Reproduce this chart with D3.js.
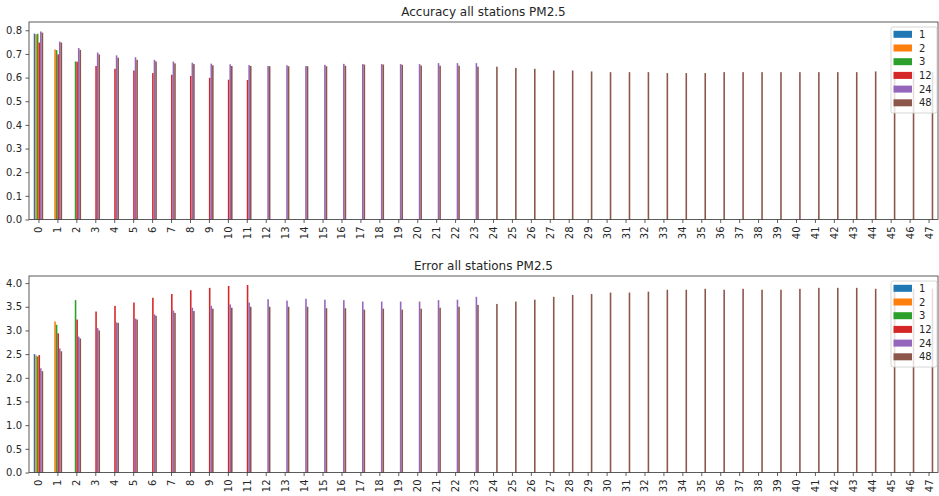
<!DOCTYPE html>
<html>
<head>
<meta charset="utf-8">
<script src="https://cdn.jsdelivr.net/npm/d3@7"></script>
<style>
  html, body { margin: 0; padding: 0; background: #fff; }
  svg { display: block; font-family: "DejaVu Sans", sans-serif; }
</style>
</head>
<body>
<svg id="chart" width="939" height="496"></svg>
<script>
// Forecast horizons (legend entries) and lead-hour categories on the x axis
const horizons = ["1", "2", "3", "12", "24", "48"];
const leadHours = d3.range(48).map(String);
const colors = ["#1f77b4", "#ff7f0e", "#2ca02c", "#d62728", "#9467bd", "#8c564b"];

// Accuracy per horizon model, one value per lead hour
const acc1 = [0.786];
const acc2 = [0.783, 0.719];
const acc3 = [0.785, 0.716, 0.668];
const acc12 = [0.748, 0.698, 0.667, 0.649, 0.637, 0.630, 0.619, 0.612, 0.607, 0.599, 0.591, 0.590];
const acc24 = [0.795, 0.752, 0.725, 0.706, 0.694, 0.686, 0.675, 0.668, 0.663, 0.659, 0.656, 0.653,
               0.649, 0.652, 0.649, 0.654, 0.658, 0.657, 0.657, 0.657, 0.657, 0.661, 0.661, 0.661];
const acc48 = [0.790, 0.748, 0.717, 0.698, 0.684, 0.675, 0.668, 0.660, 0.657, 0.652, 0.649, 0.649,
               0.648, 0.648, 0.648, 0.648, 0.650, 0.655, 0.655, 0.654, 0.651, 0.650, 0.650, 0.646,
               0.646, 0.641, 0.637, 0.630, 0.630, 0.626, 0.623, 0.623, 0.623, 0.619, 0.619, 0.619,
               0.623, 0.623, 0.623, 0.623, 0.623, 0.623, 0.623, 0.623, 0.626, 0.625, 0.625, 0.625];

// Error per horizon model, one value per lead hour
const err1 = [2.50];
const err2 = [2.47, 3.19];
const err3 = [2.45, 3.12, 3.64];
const err12 = [2.48, 2.94, 3.23, 3.40, 3.52, 3.59, 3.69, 3.77, 3.85, 3.90, 3.94, 3.96];
const err24 = [2.20, 2.62, 2.87, 3.05, 3.17, 3.25, 3.34, 3.42, 3.48, 3.52, 3.55, 3.59,
               3.66, 3.63, 3.67, 3.65, 3.64, 3.61, 3.61, 3.61, 3.61, 3.64, 3.65, 3.71];
const err48 = [2.14, 2.56, 2.83, 3.00, 3.16, 3.23, 3.31, 3.37, 3.41, 3.46, 3.48, 3.50,
               3.50, 3.50, 3.50, 3.47, 3.47, 3.44, 3.46, 3.44, 3.46, 3.48, 3.50, 3.54,
               3.56, 3.61, 3.65, 3.71, 3.75, 3.77, 3.80, 3.80, 3.82, 3.86, 3.86, 3.88,
               3.86, 3.88, 3.86, 3.86, 3.88, 3.90, 3.90, 3.90, 3.88, 3.88, 3.88, 3.88];

const accTicks = [0, 0.1, 0.2, 0.3, 0.4, 0.5, 0.6, 0.7, 0.8];
const errTicks = [0, 0.5, 1.0, 1.5, 2.0, 2.5, 3.0, 3.5, 4.0];

const svg = d3.select("#chart");

function panel(opts) {
  const { title, series, top, bottom, yMax, ticks } = opts;
  const left = 29, right = 938;
  const g = svg.append("g");

  const x = d3.scaleLinear().domain([-0.5, 47.5]).range([left, right]);
  const y = d3.scaleLinear().domain([0, yMax]).range([bottom, top]);

  // grouped bars: six slots of equal width per lead hour, 0.5 units in total
  const groupW = 0.5, slotW = groupW / horizons.length;
  series.forEach((vals, si) => {
    g.append("g")
      .selectAll("rect")
      .data(vals.map((v, i) => ({ v, i })))
      .join("rect")
      .attr("x", d => x(d.i - groupW / 2 + si * slotW))
      .attr("width", x(slotW) - x(0))
      .attr("y", d => y(d.v))
      .attr("height", d => y(0) - y(d.v))
      .attr("fill", colors[si]);
  });

  // y axis
  const yAxis = d3.axisLeft(y).tickValues(ticks).tickFormat(d3.format(".1f"))
    .tickSize(3.5).tickPadding(3.5);
  const ya = g.append("g").attr("transform", `translate(${left},0)`).call(yAxis);
  ya.select(".domain").remove();
  ya.selectAll("text").attr("font-size", 10).attr("fill", "#262626")
    .attr("font-family", "DejaVu Sans, sans-serif");
  ya.selectAll("line").attr("stroke", "#333").attr("stroke-width", 0.8);

  // x axis with rotated labels
  const xAxis = d3.axisBottom(x).tickValues(d3.range(48))
    .tickFormat(i => leadHours[i]).tickSize(3.5).tickPadding(3.5);
  const xa = g.append("g").attr("transform", `translate(0,${bottom})`).call(xAxis);
  xa.select(".domain").remove();
  xa.selectAll("line").attr("stroke", "#333").attr("stroke-width", 0.8);
  xa.selectAll("text")
    .attr("font-size", 10).attr("fill", "#262626")
    .attr("font-family", "DejaVu Sans, sans-serif")
    .attr("transform", "rotate(-90)")
    .attr("text-anchor", "end")
    .attr("x", -7).attr("y", 0).attr("dy", "0.35em");

  // frame
  g.append("rect")
    .attr("x", left).attr("y", top)
    .attr("width", right - left).attr("height", bottom - top)
    .attr("fill", "none").attr("stroke", "#333").attr("stroke-width", 0.8);

  // title
  g.append("text")
    .attr("x", (left + right) / 2).attr("y", top - 6)
    .attr("text-anchor", "middle")
    .attr("font-size", 12).attr("fill", "#262626")
    .text(title);

  // legend
  const lx = 891, ly = top + 5, rowH = 13.7;
  const lg = g.append("g");
  lg.append("rect")
    .attr("x", lx).attr("y", ly)
    .attr("width", 46).attr("height", 86)
    .attr("rx", 2)
    .attr("fill", "#fff").attr("fill-opacity", 0.8)
    .attr("stroke", "#ccc").attr("stroke-width", 0.8);
  horizons.forEach((h, i) => {
    const cy = ly + 7.3 + i * rowH;
    lg.append("rect")
      .attr("x", lx + 2.5).attr("y", cy - 3.5)
      .attr("width", 18.5).attr("height", 7)
      .attr("fill", colors[i]);
    lg.append("text")
      .attr("x", lx + 28).attr("y", cy).attr("dy", "0.35em")
      .attr("font-size", 10).attr("fill", "#262626")
      .text(h);
  });
}

panel({
  title: "Accuracy all stations PM2.5",
  series: [acc1, acc2, acc3, acc12, acc24, acc48],
  top: 22, bottom: 219.5, yMax: 0.835, ticks: accTicks
});

panel({
  title: "Error all stations PM2.5",
  series: [err1, err2, err3, err12, err24, err48],
  top: 276, bottom: 472.5, yMax: 4.15, ticks: errTicks
});
</script>
</body>
</html>
